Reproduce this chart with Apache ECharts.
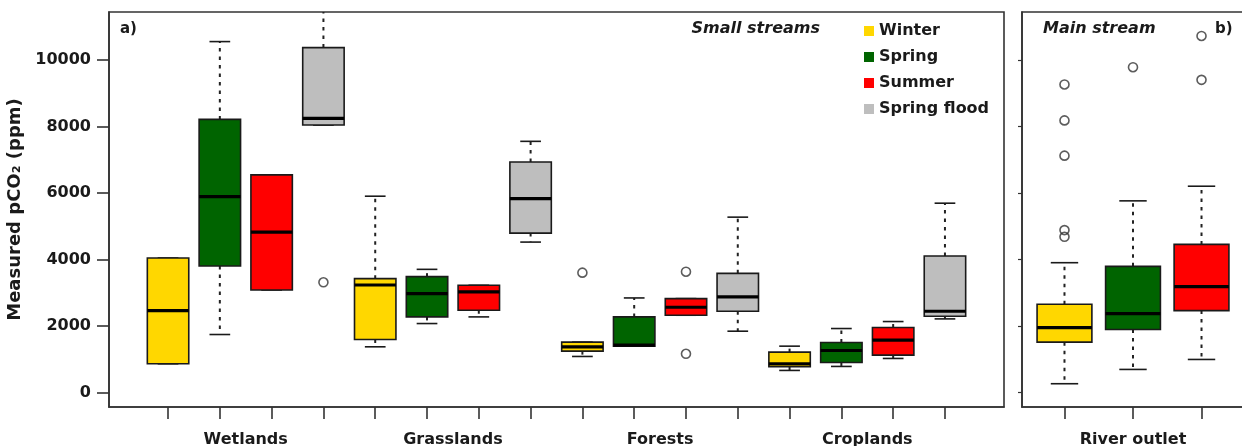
<!DOCTYPE html>
<html>
<head>
<meta charset="utf-8">
<script src="https://cdn.jsdelivr.net/npm/echarts@6/dist/echarts.min.js"></script>
<style>
html,body{margin:0;padding:0;background:#fff;}
#chart{width:1242px;height:446px;}
</style>
</head>
<body>
<div id="chart"></div>
<script>
// ---------- data ----------
const groups = ['Wetlands', 'Grasslands', 'Forests', 'Croplands'];
const seasons = ['Winter', 'Spring', 'Summer', 'Spring flood'];
const outletLabel = ['River outlet'];
const yTicks = [0, 2000, 4000, 6000, 8000, 10000];

// each box: [lower whisker, Q1, median, Q3, upper whisker], one per group
const winterSmall = [[860, 860, 2460, 4040, 4040], [1370, 1590, 3230, 3420, 5900], [1080, 1240, 1370, 1510, 1510], [660, 770, 860, 1210, 1390]];
const springSmall = [[1740, 3800, 5890, 8210, 10550], [2070, 2270, 2970, 3480, 3700], [1390, 1390, 1420, 2270, 2840], [780, 900, 1260, 1500, 1920]];
const summerSmall = [[3080, 3080, 4820, 6540, 6540], [2270, 2470, 3020, 3220, 3220], [2320, 2320, 2560, 2820, 2820], [1020, 1120, 1570, 1950, 2130]];
const floodSmall  = [[8040, 8040, 8240, 10370, 12500], [4520, 4790, 5830, 6930, 7550], [1840, 2440, 2870, 3580, 5270], [2210, 2290, 2440, 4100, 5690]];
// outliers in small streams: [group index, season index, value]
const outliersSmall = [[0, 3, 3310], [2, 0, 3600], [2, 2, 3630], [2, 2, 1160]];

// main stream (river outlet)
const winterOutlet = [260, 1510, 1950, 2650, 3900];
const springOutlet = [690, 1890, 2370, 3790, 5760];
const summerOutlet = [990, 2460, 3180, 4450, 6200];
const winterOutletOut = [9260, 8180, 7120, 4880, 4680];
const springOutletOut = [9780];
const summerOutletOut = [10720, 9400];

// ---------- styles ----------
const colors = ['#FFD700', '#006400', '#FF0000', '#BEBEBE'];
const FONT = '"DejaVu Sans", "Liberation Sans", sans-serif';
const ink = '#1a1a1a';
const frame = '#333333';

const smallData = [winterSmall, springSmall, summerSmall, floodSmall];
const outletData = [winterOutlet, springOutlet, summerOutlet];
const outletOut = [winterOutletOut, springOutletOut, summerOutletOut];

function renderBox(params, api) {
  const x = api.value(0);
  const lo = api.coord([x, api.value(1)]);
  const q1 = api.coord([x, api.value(2)]);
  const md = api.coord([x, api.value(3)]);
  const q3 = api.coord([x, api.value(4)]);
  const hi = api.coord([x, api.value(5)]);
  const half = api.size([0.4, 0])[0];
  const cap = half / 2;
  const cx = q1[0];
  const fill = api.visual('color');
  const dash = {stroke: '#222', lineWidth: 2, lineDash: [3.5, 5]};
  const solid = {stroke: ink, lineWidth: 1.6};
  const children = [];
  if (Math.abs(hi[1] - q3[1]) > 0.5) {
    children.push({type: 'line', shape: {x1: cx, y1: q3[1], x2: cx, y2: hi[1]}, style: dash});
  }
  if (Math.abs(lo[1] - q1[1]) > 0.5) {
    children.push({type: 'line', shape: {x1: cx, y1: q1[1], x2: cx, y2: lo[1]}, style: dash});
  }
  children.push({type: 'line', shape: {x1: cx - cap, y1: hi[1], x2: cx + cap, y2: hi[1]}, style: solid});
  children.push({type: 'line', shape: {x1: cx - cap, y1: lo[1], x2: cx + cap, y2: lo[1]}, style: solid});
  children.push({type: 'rect', shape: {x: cx - half, y: q3[1], width: 2 * half, height: q1[1] - q3[1]},
    style: {fill: fill, stroke: ink, lineWidth: 1.6}});
  children.push({type: 'line', shape: {x1: cx - half, y1: md[1], x2: cx + half, y2: md[1]},
    style: {stroke: '#000', lineWidth: 3.2}});
  return {type: 'group', children: children};
}

const series = [];
seasons.forEach((name, s) => {
  series.push({
    type: 'custom', name: name, xAxisIndex: 0, yAxisIndex: 0, clip: true,
    itemStyle: {color: colors[s]},
    renderItem: renderBox,
    encode: {x: 0, y: [1, 2, 3, 4, 5]},
    data: smallData[s].map((b, g) => [g * 4 + s + 1].concat(b))
  });
});
seasons.slice(0, 3).forEach((name, s) => {
  series.push({
    type: 'custom', name: name, xAxisIndex: 1, yAxisIndex: 1, clip: true,
    itemStyle: {color: colors[s]},
    renderItem: renderBox,
    encode: {x: 0, y: [1, 2, 3, 4, 5]},
    data: [[s + 1].concat(outletData[s])]
  });
});
const outStyle = {color: 'rgba(0,0,0,0)', borderColor: '#333', borderWidth: 1.6};
series.push({
  type: 'scatter', xAxisIndex: 0, yAxisIndex: 0, symbol: 'circle', symbolSize: 9,
  itemStyle: outStyle, silent: true,
  data: outliersSmall.map(o => [o[0] * 4 + o[1] + 1, o[2]])
});
const outletPts = [];
outletOut.forEach((arr, s) => arr.forEach(v => outletPts.push([s + 1, v])));
series.push({
  type: 'scatter', xAxisIndex: 1, yAxisIndex: 1, symbol: 'circle', symbolSize: 9,
  itemStyle: outStyle, silent: true, data: outletPts
});

const labelStyle = {fontFamily: FONT, fontWeight: 'bold', fontSize: 16, color: ink};

const option = {
  backgroundColor: '#fff',
  animation: false,
  grid: [
    {left: 109, top: 12, width: 895, height: 395, show: true, borderColor: frame, borderWidth: 1.6,
      backgroundColor: 'transparent', containLabel: false, outerBoundsMode: 'none'},
    {left: 1022, top: 12, width: 222, height: 395, show: true, borderColor: frame, borderWidth: 1.6,
      backgroundColor: 'transparent', containLabel: false, outerBoundsMode: 'none'}
  ],
  xAxis: [
    {type: 'value', gridIndex: 0, min: -0.14, max: 17.14,
      axisLine: {show: true, onZero: false, lineStyle: {color: frame, width: 1.6}},
      axisTick: {show: true, customValues: Array.from({length: 16}, (_, i) => i + 1), length: 12, lineStyle: {color: frame, width: 1.6}},
      axisLabel: Object.assign({customValues: groups.map((g, i) => i * 4 + 2.5), margin: 25,
        formatter: v => groups[Math.round((v - 2.5) / 4)]}, labelStyle),
      splitLine: {show: false}},
    {type: 'value', gridIndex: 1, min: 0.38, max: 3.62,
      axisLine: {show: true, onZero: false, lineStyle: {color: frame, width: 1.6}},
      axisTick: {show: true, customValues: [1, 2, 3], length: 12, lineStyle: {color: frame, width: 1.6}},
      axisLabel: Object.assign({customValues: [2], margin: 25, formatter: () => outletLabel[0]}, labelStyle),
      splitLine: {show: false}}
  ],
  yAxis: [
    {type: 'value', gridIndex: 0, min: -440, max: 11440,
      name: 'Measured pCO₂ (ppm)', nameLocation: 'middle', nameGap: 78, nameRotate: 90,
      nameTextStyle: {fontFamily: FONT, fontWeight: 'bold', fontSize: 18, color: ink},
      axisLine: {show: true, onZero: false, lineStyle: {color: frame, width: 1.6}},
      axisTick: {show: true, customValues: yTicks, length: 12, lineStyle: {color: frame, width: 1.6}},
      axisLabel: Object.assign({customValues: yTicks, margin: 18, formatter: v => String(v)}, labelStyle),
      splitLine: {show: false}},
    {type: 'value', gridIndex: 1, min: -440, max: 11440,
      axisLine: {show: true, onZero: false, lineStyle: {color: frame, width: 1.6}},
      axisTick: {show: true, customValues: yTicks, length: 4, lineStyle: {color: frame, width: 1.2}},
      axisLabel: {show: false},
      splitLine: {show: false}}
  ],
  legend: {
    data: seasons, orient: 'vertical', left: 859, top: 17,
    icon: 'rect', itemWidth: 10, itemHeight: 10, itemGap: 8,
    textStyle: {fontFamily: FONT, fontWeight: 'bold', fontSize: 16, color: ink, lineHeight: 18},
    selectedMode: false
  },
  graphic: [
    {type: 'text', left: 120, top: 22, style: {text: 'a)', font: 'bold 15px ' + FONT, fill: ink}},
    {type: 'text', right: 1242 - 820, top: 21, style: {text: 'Small streams', font: 'italic bold 16px ' + FONT, fill: ink}},
    {type: 'text', left: 1043, top: 21, style: {text: 'Main stream', font: 'italic bold 16px ' + FONT, fill: ink}},
    {type: 'text', left: 1215, top: 22, style: {text: 'b)', font: 'bold 15px ' + FONT, fill: ink}}
  ],
  series: series
};

const chart = echarts.init(document.getElementById('chart'), null, {renderer: 'canvas'});
chart.setOption(option);
</script>
</body>
</html>
